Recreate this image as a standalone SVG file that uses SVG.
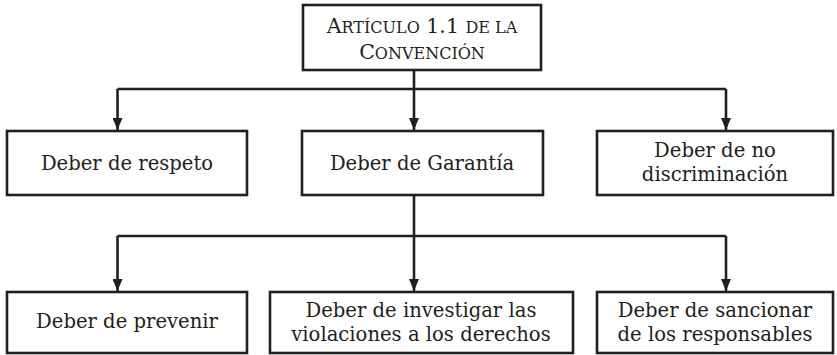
<svg xmlns="http://www.w3.org/2000/svg" width="837" height="355" viewBox="0 0 837 355">
<style>
.box{fill:#fff;stroke:#231f20;stroke-width:2.6}
.t{font-family:"DejaVu Serif","Liberation Serif",serif;font-size:19.6px;fill:#231f20;text-anchor:middle}
.h{font-size:20.5px}
.sc{font-size:16px}
.c{fill:none;stroke:#231f20;stroke-width:2.6}
</style>
<defs>
<marker id="ah" markerWidth="12" markerHeight="10" refX="12" refY="5" orient="auto" markerUnits="userSpaceOnUse">
<path d="M0,0 L12,5 L0,10 Z" fill="#231f20"/>
</marker>
</defs>
<g id="connectors">
<path class="c" d="M414,70 V89"/>
<path class="c" d="M117.5,89 H726"/>
<path class="c" d="M117.5,89 V130" marker-end="url(#ah)"/>
<path class="c" d="M414,89 V130" marker-end="url(#ah)"/>
<path class="c" d="M726,89 V130" marker-end="url(#ah)"/>
<path class="c" d="M414,195 V236"/>
<path class="c" d="M117.5,236 H726"/>
<path class="c" d="M117.5,236 V291" marker-end="url(#ah)"/>
<path class="c" d="M414,236 V291" marker-end="url(#ah)"/>
<path class="c" d="M726,236 V291" marker-end="url(#ah)"/>
</g>
<g id="n-articulo">
<rect class="box" x="303" y="5" width="238" height="65"/>
<text class="t h" x="422" y="33">A<tspan class="sc">RTÍCULO</tspan> 1.1 <tspan class="sc">DE LA</tspan></text>
<text class="t h" x="422" y="59">C<tspan class="sc">ONVENCIÓN</tspan></text>
</g>
<g id="n-respeto">
<rect class="box" x="7" y="131" width="240" height="64"/>
<text class="t" x="127" y="170">Deber de respeto</text>
</g>
<g id="n-garantia">
<rect class="box" x="302" y="131" width="241" height="64"/>
<text class="t" x="422" y="170">Deber de Garantía</text>
</g>
<g id="n-nodiscriminacion">
<rect class="box" x="597" y="131" width="236" height="64"/>
<text class="t" x="715" y="157">Deber de no</text>
<text class="t" x="715" y="181">discriminación</text>
</g>
<g id="n-prevenir">
<rect class="box" x="7" y="292" width="240" height="61"/>
<text class="t" x="127" y="328">Deber de prevenir</text>
</g>
<g id="n-investigar">
<rect class="box" x="270" y="292" width="303" height="61"/>
<text class="t" x="421" y="317">Deber de investigar las</text>
<text class="t" x="421" y="341">violaciones a los derechos</text>
</g>
<g id="n-sancionar">
<rect class="box" x="597" y="292" width="236" height="61"/>
<text class="t" x="715" y="317">Deber de sancionar</text>
<text class="t" x="715" y="341">de los responsables</text>
</g>
</svg>
